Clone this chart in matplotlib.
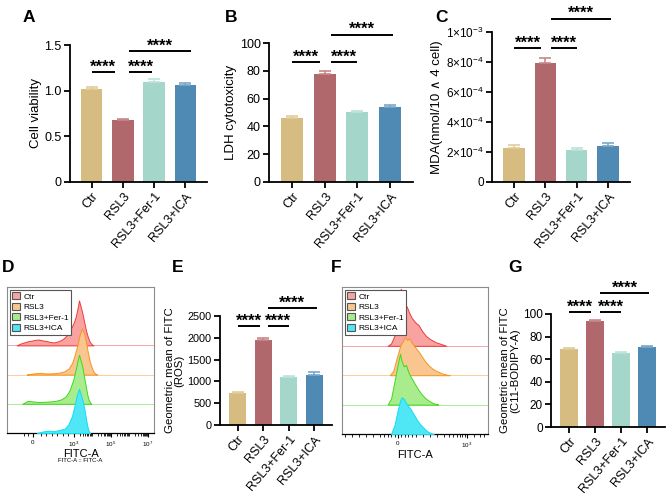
import matplotlib
matplotlib.use("Agg")
import matplotlib.pyplot as plt
from matplotlib.patches import Patch

plt.rcParams.update({
    "font.family": ["Liberation Sans", "DejaVu Sans"],
    "mathtext.fontset": "custom",
    "mathtext.rm": "Liberation Sans",
    "mathtext.it": "Liberation Sans:italic",
    "mathtext.bf": "Liberation Sans:bold",
    "axes.unicode_minus": True,
})

W, H = 669, 499

groups = ["Ctr", "RSL3", "RSL3+Fer-1", "RSL3+ICA"]
bar_colors = ["#D7BC82", "#B1686C", "#A4D6CA", "#4F8AB4"]
err_colors = ["#E3CC9C", "#C9868A", "#BDE3D9", "#7BA8C9"]

# bar panels: values, errors
viab_mean = [1.02, 0.68, 1.10, 1.06]
viab_err = [0.02, 0.01, 0.03, 0.02]
ldh_mean = [46, 78, 50, 54]
ldh_err = [1.2, 1.6, 1.0, 1.2]
mda_mean = [2.25e-4, 7.95e-4, 2.10e-4, 2.40e-4]
mda_err = [0.20e-4, 0.30e-4, 0.15e-4, 0.18e-4]
ros_mean = [730, 1960, 1100, 1150]
ros_err = [35, 45, 20, 60]
bodipy_mean = [69.0, 93.5, 65.5, 71.0]
bodipy_err = [0.8, 1.0, 0.5, 1.0]

# significance brackets: (x start, x end, y)
sig_viab = [(0.0, 0.74, 1.20), (1.19, 1.94, 1.20), (1.19, 3.19, 1.43)]
sig_ldh = [(0.0, 0.86, 86), (1.19, 2.0, 86), (1.19, 3.1, 106)]
sig_mda = [(0.0, 0.86, 0.893e-3), (1.19, 2.0, 0.893e-3), (1.19, 3.1, 1.087e-3)]
sig_ros = [(0.0, 0.86, 2270), (1.19, 2.0, 2270), (1.19, 3.1, 2680)]
sig_bodipy = [(0.0, 0.86, 101.8), (1.19, 2.0, 101.8), (1.19, 3.1, 118.6)]

# flow histograms (panel D, x in decade units)
d_ctr_x = [-0.1, 0.1, 0.3, 0.5, 0.7, 0.9, 1.1, 1.3, 1.5, 1.7, 1.9, 2.1, 2.3, 2.5, 2.7,
           2.85, 3.0, 3.1, 3.2, 3.27, 3.35, 3.45, 3.55, 3.65, 3.75, 3.85, 3.95, 4.05]
d_ctr_h = [0, 0.06, 0.1, 0.14, 0.16, 0.19, 0.2, 0.17, 0.15, 0.12, 0.1, 0.13, 0.18, 0.27, 0.42,
           0.6, 0.8, 1.0, 1.3, 1.54, 1.35, 1.1, 0.8, 0.5, 0.28, 0.12, 0.04, 0]
d_rsl_x = [0.45, 0.7, 0.95, 1.2, 1.45, 1.7, 2.0, 2.3, 2.5, 2.7, 2.9, 3.05, 3.2, 3.3, 3.43,
           3.55, 3.65, 3.75, 3.85, 3.95, 4.05, 4.15, 4.25]
d_rsl_h = [0, 0.03, 0.05, 0.06, 0.04, 0.04, 0.05, 0.08, 0.12, 0.2, 0.4, 0.7, 1.05, 1.35, 1.58,
           1.4, 1.1, 0.75, 0.45, 0.25, 0.1, 0.03, 0]
d_fer_x = [0.2, 0.5, 0.8, 1.1, 1.4, 1.7, 2.0, 2.3, 2.55, 2.75, 2.95, 3.1, 3.2, 3.27, 3.35,
           3.45, 3.55, 3.65, 3.72, 3.8, 3.87, 3.93]
d_fer_h = [0, 0.1, 0.08, 0.06, 0.07, 0.08, 0.1, 0.15, 0.25, 0.45, 0.8, 1.2, 1.5, 1.68, 1.5,
           1.25, 0.9, 0.55, 0.3, 0.12, 0.04, 0]
d_ica_x = [1.0, 1.3, 1.6, 1.9, 2.2, 2.5, 2.7, 2.9, 3.05, 3.15, 3.27, 3.35, 3.45, 3.55, 3.63,
           3.7, 3.76, 3.82, 3.87]
d_ica_h = [0, 0.05, 0.08, 0.06, 0.1, 0.15, 0.3, 0.6, 1.0, 1.3, 1.51, 1.35, 1.15, 0.85, 0.55,
           0.3, 0.12, 0.04, 0]

# flow histograms (panel F)
f_ctr_x = [-0.45, -0.3, -0.15, 0.0, 0.08, 0.12, 0.2, 0.3, 0.4, 0.5, 0.6, 0.75, 0.9, 1.05,
           1.2, 1.35, 1.5, 1.65, 1.8, 1.95, 2.1]
f_ctr_h = [0, 0.08, 0.35, 1.1, 1.6, 1.94, 1.7, 1.45, 1.3, 1.1, 0.95, 0.8, 0.7, 0.5,
           0.35, 0.25, 0.18, 0.12, 0.08, 0.04, 0]
f_rsl_x = [-0.35, -0.2, -0.05, 0.1, 0.2, 0.3, 0.4, 0.5, 0.6, 0.75, 0.9, 1.05, 1.2, 1.35,
           1.5, 1.65, 1.8, 1.95, 2.1, 2.25]
f_rsl_h = [0, 0.15, 0.6, 1.0, 1.15, 1.29, 1.2, 1.25, 1.1, 0.95, 0.8, 0.62, 0.45, 0.32,
           0.22, 0.15, 0.1, 0.05, 0.02, 0]
f_fer_x = [-0.45, -0.3, -0.15, 0.0, 0.09, 0.15, 0.25, 0.35, 0.45, 0.55, 0.7, 0.85, 1.0,
           1.15, 1.3, 1.45, 1.6, 1.75]
f_fer_h = [0, 0.2, 0.8, 1.4, 1.73, 1.5, 1.3, 1.35, 1.1, 0.95, 0.75, 0.55, 0.38,
           0.25, 0.15, 0.08, 0.03, 0]
f_ica_x = [-0.3, -0.15, 0.0, 0.1, 0.16, 0.25, 0.35, 0.45, 0.55, 0.7, 0.85, 1.0, 1.15,
           1.3, 1.45, 1.55]
f_ica_h = [0, 0.3, 0.85, 1.15, 1.25, 1.2, 1.05, 0.95, 0.85, 0.65, 0.45, 0.3, 0.18,
           0.08, 0.02, 0]

flow_fill = ["#F8A2A2", "#F9C690", "#A9EC8E", "#4FE6F6"]
flow_edge = ["#F03A3A", "#F7941E", "#3FD81C", "#12DDF0"]
flow_offsets = [3, 2, 1, 0]


def px_rect(l, t, r, b):
    return [l / W, 1 - b / H, (r - l) / W, (b - t) / H]


def bar_panel(fig, rect, mean, err, sig, ylim, yticks, yticklabels, ylabel, lab, lab_xy,
              tsize=9, lsize=9.5):
    ax = fig.add_axes(px_rect(*rect))
    x = range(len(groups))
    ax.bar(x, mean, width=0.68, color=bar_colors, zorder=2)
    for i in x:
        ax.errorbar(i, mean[i], yerr=[[0], [err[i]]], fmt="none", ecolor=err_colors[i],
                    elinewidth=1.2, capsize=4, capthick=1.2, zorder=3)
    ax.set_xlim(-0.7, 3.7)
    ax.set_ylim(*ylim)
    ax.set_yticks(yticks)
    ax.set_yticklabels(yticklabels)
    ax.set_xticks(list(x))
    ax.set_xticklabels(groups, rotation=50, ha="right", rotation_mode="anchor")
    for s in ["top", "right"]:
        ax.spines[s].set_visible(False)
    for s in ["left", "bottom"]:
        ax.spines[s].set_linewidth(1.3)
    ax.tick_params(width=1.3, length=4, labelsize=tsize, pad=2, colors="black")
    ax.tick_params(axis="x", labelsize=9)
    ax.set_ylabel(ylabel, fontsize=lsize, labelpad=2, linespacing=1.0)
    for x1, x2, y in sig:
        ax.plot([x1, x2], [y, y], color="black", lw=1.4, clip_on=False,
                solid_capstyle="butt")
        ax.annotate("****", xy=((x1 + x2) / 2, y), xytext=(0, 0.5),
                    textcoords="offset points", ha="center", va="baseline",
                    fontsize=12, fontweight="bold", annotation_clip=False)
    fig.text(lab_xy[0] / W, 1 - lab_xy[1] / H, lab, fontsize=12.5, fontweight="bold",
             ha="center", va="center")
    return ax


def flow_panel(fig, rect, curves, xlim, major, major_labels, minor, lab, lab_xy, sub=None):
    ax = fig.add_axes(px_rect(*rect))
    handles = []
    for i, (cx, ch) in enumerate(curves):
        off = flow_offsets[i]
        ax.axhline(off, color=flow_edge[i], lw=0.7, alpha=0.45, zorder=1)
        ax.fill_between(cx, off, [off + v for v in ch], facecolor=flow_fill[i],
                        edgecolor=flow_edge[i], lw=0.7, zorder=10 + i)
        handles.append(Patch(facecolor=flow_fill[i], edgecolor="#555555", lw=0.8))
    ax.set_xlim(*xlim)
    ax.set_ylim(0, 5.0)
    ax.set_yticks([])
    ax.set_xticks(major)
    ax.set_xticklabels(major_labels)
    ax.set_xticks(minor, minor=True)
    ax.tick_params(axis="x", which="major", length=3, width=0.8, labelsize=4.5, pad=2)
    ax.tick_params(axis="x", which="minor", length=1.8, width=0.6)
    for s in ["top", "right", "left"]:
        ax.spines[s].set_color("#8c8c8c")
        ax.spines[s].set_linewidth(0.8)
    ax.spines["bottom"].set_linewidth(0.9)
    ax.set_xlabel("FITC-A", fontsize=8, labelpad=0)
    if sub:
        ax.text(0.5, -0.19, sub, transform=ax.transAxes, fontsize=4.3, ha="center",
                va="center")
    leg = ax.legend(handles, groups, loc="upper left", fontsize=6, frameon=True,
                    fancybox=False, framealpha=1, edgecolor="#555555",
                    handlelength=0.9, handleheight=0.9, labelspacing=0.25,
                    borderpad=0.3, handletextpad=0.4, borderaxespad=0.35)
    leg.get_frame().set_linewidth(0.8)
    leg.set_zorder(30)
    fig.text(lab_xy[0] / W, 1 - lab_xy[1] / H, lab, fontsize=12.5, fontweight="bold",
             ha="center", va="center")
    return ax


fig = plt.figure(figsize=(W / 100, H / 100), dpi=100)

bar_panel(fig, (70, 45, 207, 182), viab_mean, viab_err, sig_viab, (0, 1.5),
          [0, 0.5, 1.0, 1.5], ["0", "0.5", "1.0", "1.5"], "Cell viability", "A", (29, 18))
bar_panel(fig, (269, 43, 413, 182), ldh_mean, ldh_err, sig_ldh, (0, 100),
          [0, 20, 40, 60, 80, 100], ["0", "20", "40", "60", "80", "100"],
          "LDH cytotoxicity", "B", (231, 18))
bar_panel(fig, (492, 32, 630, 182), mda_mean, mda_err, sig_mda, (0, 1e-3),
          [0, 2e-4, 4e-4, 6e-4, 8e-4, 1e-3],
          ["0", r"$2{\times}10^{-4}$", r"$4{\times}10^{-4}$", r"$6{\times}10^{-4}$",
           r"$8{\times}10^{-4}$", r"$1{\times}10^{-3}$"],
          "MDA(nmol/10 \u2227 4 cell)", "C", (441, 17), tsize=8.5)
bar_panel(fig, (220, 316, 332, 425), ros_mean, ros_err, sig_ros, (0, 2500),
          [0, 500, 1000, 1500, 2000, 2500], ["0", "500", "1000", "1500", "2000", "2500"],
          "Geometric mean of FITC\n(ROS)", "E", (178, 268), tsize=7.8, lsize=8.2)
bar_panel(fig, (551, 314, 665, 427), bodipy_mean, bodipy_err, sig_bodipy, (0, 100),
          [0, 20, 40, 60, 80, 100], ["0", "20", "40", "60", "80", "100"],
          "Geometric mean of FITC\n(C11-BODIPY-A)", "G", (515, 267), tsize=8.5, lsize=8.2)

d_minor = [0.3, 0.5, 1.2, 1.5, 1.8, 2.1, 2.4, 2.7, 3.3, 3.48, 3.6, 3.7, 3.78, 3.85, 3.9,
           3.95, 4.3, 4.48, 4.6, 4.7, 4.78, 4.85, 4.9, 4.95, 5.3, 5.48, 5.6, 5.7, 5.78,
           5.85, 5.9, 5.95, 6.3, 6.48, 6.6, 6.7, 6.78, 6.85, 6.9, 6.95]
flow_panel(fig, (7, 287, 154, 433),
           [(d_ctr_x, d_ctr_h), (d_rsl_x, d_rsl_h), (d_fer_x, d_fer_h), (d_ica_x, d_ica_h)],
           (-0.62, 7.32), [0.78, 3, 5, 7], ["0", "$10^3$", "$10^5$", "$10^7$"], d_minor,
           "D", (8, 268), sub="FITC-A :: FITC-A")

f_minor = [-2.3, -2.0, -1.7, -1.4, -1.1, -0.8, -0.6, -0.45, -0.3, -0.15, 0.15, 0.3, 0.45,
           0.6, 0.8, 1.1, 1.4, 1.7, 2.0, 2.2, 2.4, 2.55, 2.7, 2.8, 2.9, 3.3, 3.55, 3.75]
flow_panel(fig, (342, 287, 488, 434),
           [(f_ctr_x, f_ctr_h), (f_rsl_x, f_rsl_h), (f_fer_x, f_fer_h), (f_ica_x, f_ica_h)],
           (-2.43, 3.91), [0, 3], ["0", "$10^3$"], f_minor, "F", (336, 268))

fig.savefig("out.png", dpi=100)
